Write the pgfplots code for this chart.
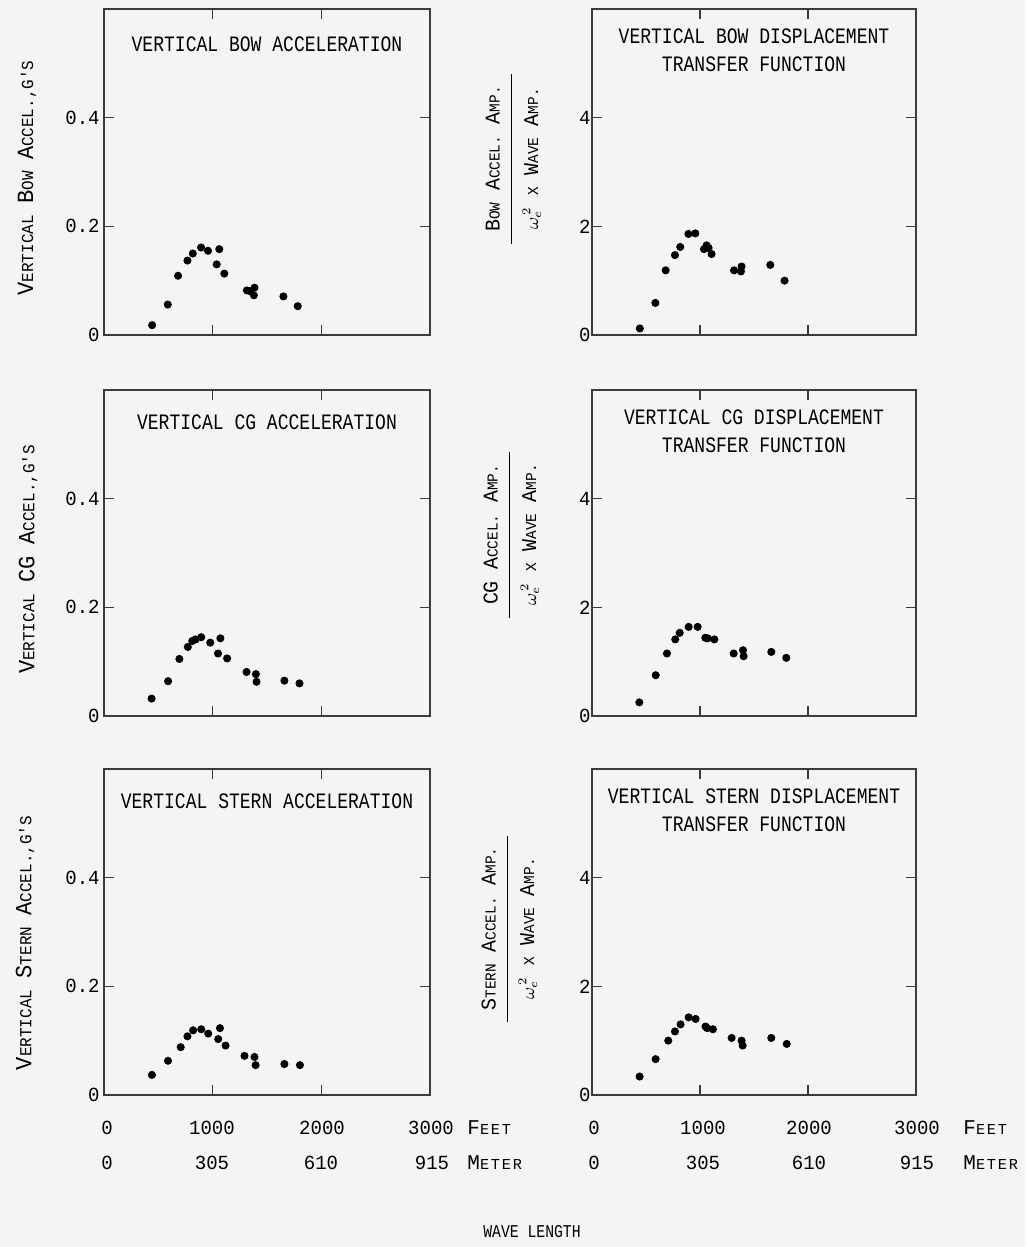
\documentclass[border=0pt]{standalone}
\usepackage{pgfplots}
\pgfplotsset{compat=1.18}
\usepackage{fontspec}
\setmainfont{Liberation Mono}
\newfontfamily\tf{Liberation Mono}[FakeStretch=0.82]
\newfontfamily\lf{Liberation Mono}[FakeStretch=0.95]
\newfontfamily\wf{Liberation Mono}[LetterSpace=12]
\definecolor{bg}{RGB}{244,244,244}
\definecolor{fr}{RGB}{60,60,60}
\newcommand\sca[2]{{\fontsize{11.6}{12}\selectfont#1}{\fontsize{8.4}{10}\selectfont#2}}
\newcommand\scb[2]{{\fontsize{10.5}{12}\selectfont#1}{\fontsize{7.6}{10}\selectfont#2}}
\newcommand\tfs{\tf\fontsize{11}{14}\selectfont}
\pgfplotsset{
  panel/.style={
    scale only axis, height=163pt, anchor=south west,
    xmin=0, xmax=3000, xtick={1000,2000}, xticklabels={},
    tick align=inside, major tick length=5pt,
    tick style={fr, line width=0.6pt},
    axis line style={fr, line width=0.6pt},
    /pgf/number format/assume math mode=true,
    yticklabel style={font=\lf\fontsize{10}{10}\selectfont, inner sep=2pt},
    clip=false,
  },
  leftp/.style={panel, width=163pt, ymin=0, ymax=0.6, ytick={0,0.2,0.4}, yticklabels={0,0.2,0.4}},
  rightp/.style={panel, width=162pt, ymin=0, ymax=6, ytick={0,2,4}, yticklabels={0,2,4},
    yticklabel style={inner sep=0.5pt}},
  dots/.style={only marks, mark=*, mark size=1.8pt, black},
}
\begin{document}
\begin{tikzpicture}
\fill[bg] (0,0) rectangle (512.5pt,623.5pt);
\path[use as bounding box] (0,0) rectangle (512.5pt,623.5pt);

% ---------- Row 1 ----------
\begin{axis}[leftp, at={(52pt,456pt)}]
\addplot[dots] coordinates {(443,0.018)(587,0.056)(682,0.109)(768,0.137)(817,0.150)(893,0.161)(957,0.155)(1061,0.158)(1037,0.130)(1107,0.113)(1315,0.082)(1385,0.087)(1379,0.073)(1340,0.081)(1651,0.071)(1783,0.053)};
\node[font=\tfs] at (axis description cs:0.5,0.893) {VERTICAL BOW ACCELERATION};
\end{axis}
\begin{axis}[rightp, at={(296pt,456pt)}]
\addplot[dots] coordinates {(443,0.12)(587,0.59)(682,1.19)(768,1.47)(817,1.62)(893,1.86)(957,1.87)(1037,1.58)(1061,1.65)(1107,1.49)(1080,1.60)(1315,1.19)(1385,1.26)(1379,1.17)(1651,1.29)(1783,1.00)};
\node[font=\tfs, align=center] at (axis description cs:0.5,0.872) {VERTICAL BOW DISPLACEMENT\\TRANSFER FUNCTION};
\end{axis}

% ---------- Row 2 ----------
\begin{axis}[leftp, at={(52pt,265.5pt)}]
\addplot[dots] coordinates {(438,0.032)(590,0.064)(694,0.105)(771,0.127)(812,0.138)(843,0.141)(895,0.145)(978,0.135)(1071,0.143)(1049,0.115)(1133,0.106)(1312,0.081)(1398,0.077)(1404,0.063)(1660,0.065)(1799,0.060)};
\node[font=\tfs] at (axis description cs:0.5,0.9) {VERTICAL CG ACCELERATION};
\end{axis}
\begin{axis}[rightp, at={(296pt,265.5pt)}]
\addplot[dots] coordinates {(438,0.25)(590,0.75)(694,1.15)(771,1.41)(812,1.53)(895,1.64)(978,1.64)(1049,1.44)(1071,1.43)(1133,1.41)(1312,1.15)(1398,1.21)(1404,1.10)(1660,1.18)(1799,1.07)};
\node[font=\tfs, align=center] at (axis description cs:0.5,0.872) {VERTICAL CG DISPLACEMENT\\TRANSFER FUNCTION};
\end{axis}

% ---------- Row 3 ----------
\begin{axis}[leftp, at={(52pt,76pt)}]
\addplot[dots] coordinates {(441,0.037)(589,0.063)(706,0.088)(768,0.108)(820,0.119)(895,0.121)(959,0.113)(1067,0.123)(1051,0.103)(1119,0.091)(1293,0.072)(1385,0.070)(1395,0.055)(1660,0.057)(1803,0.055)};
\node[font=\tfs] at (axis description cs:0.5,0.9) {VERTICAL STERN ACCELERATION};
\end{axis}
\begin{axis}[rightp, at={(296pt,76pt)}]
\addplot[dots] coordinates {(441,0.34)(589,0.66)(706,1.00)(768,1.17)(820,1.30)(895,1.43)(959,1.40)(1051,1.26)(1067,1.23)(1119,1.21)(1293,1.05)(1385,1.00)(1395,0.91)(1660,1.05)(1803,0.94)};
\node[font=\tfs, align=center] at (axis description cs:0.5,0.872) {VERTICAL STERN DISPLACEMENT\\TRANSFER FUNCTION};
\end{axis}

% ---------- y labels, left ----------
\begin{scope}[every node/.style={rotate=90, font=\lf}]
\node at (13.5pt,534.5pt) {\sca{V}{ERTICAL} \sca{B}{OW} \sca{A}{CCEL.,G'S}};
\node at (14pt,343.75pt) {\sca{V}{ERTICAL} \sca{CG}{} \sca{A}{CCEL.,G'S}};
\node at (12.5pt,152pt) {\sca{V}{ERTICAL} \sca{S}{TERN} \sca{A}{CCEL.,G'S}};
\end{scope}

% ---------- y labels, right (fractions) ----------
\setlength\arrayrulewidth{0.6pt}
\begin{scope}[every node/.style={rotate=90, font=\lf, inner sep=0pt}]
\node at (257pt,544pt) {\begin{tabular}{c}\scb{B}{OW} \scb{A}{CCEL.} \scb{A}{MP.}\\[2pt]\hline
 \rule{0pt}{13pt}{\fontsize{9}{10}\selectfont$\omega_{e}^{\,2}$} {\fontsize{7.6}{10}\selectfont X} \scb{W}{AVE} \scb{A}{MP.}\end{tabular}};
\node at (256pt,356pt) {\begin{tabular}{c}\scb{CG}{} \scb{A}{CCEL.} \scb{A}{MP.}\\[2pt]\hline
 \rule{0pt}{13pt}{\fontsize{9}{10}\selectfont$\omega_{e}^{\,2}$} {\fontsize{7.6}{10}\selectfont X} \scb{W}{AVE} \scb{A}{MP.}\end{tabular}};
\node at (255pt,159pt) {\begin{tabular}{c}\scb{S}{TERN} \scb{A}{CCEL.} \scb{A}{MP.}\\[2pt]\hline
 \rule{0pt}{13pt}{\fontsize{9}{10}\selectfont$\omega_{e}^{\,2}$} {\fontsize{7.6}{10}\selectfont X} \scb{W}{AVE} \scb{A}{MP.}\end{tabular}};
\end{scope}

% ---------- x scale labels ----------
\begin{scope}[every node/.style={font=\lf\fontsize{10}{10}\selectfont, inner sep=0pt}]
\node at (53.5pt,59.5pt) {0};
\node at (106pt,59.5pt) {1000};
\node at (161pt,59.5pt) {2000};
\node at (215.5pt,59.5pt) {3000};
\node[anchor=west] at (233.5pt,59.5pt) {\wf\scb{F}{EET}};
\node at (53.5pt,42pt) {0};
\node at (106pt,42pt) {305};
\node at (160.5pt,42pt) {610};
\node at (216pt,42pt) {915};
\node[anchor=west] at (233.5pt,42pt) {\wf\scb{M}{ETER}};
\node at (297pt,59.5pt) {0};
\node at (351.5pt,59.5pt) {1000};
\node at (404.5pt,59.5pt) {2000};
\node at (458.5pt,59.5pt) {3000};
\node[anchor=west] at (481.5pt,59.5pt) {\wf\scb{F}{EET}};
\node at (297pt,42pt) {0};
\node at (351.5pt,42pt) {305};
\node at (404.5pt,42pt) {610};
\node at (458.5pt,42pt) {915};
\node[anchor=west] at (481.5pt,42pt) {\wf\scb{M}{ETER}};
\node[font=\tf\fontsize{9}{10}\selectfont] at (266pt,7.5pt) {WAVE LENGTH};
\end{scope}
\end{tikzpicture}
\end{document}
